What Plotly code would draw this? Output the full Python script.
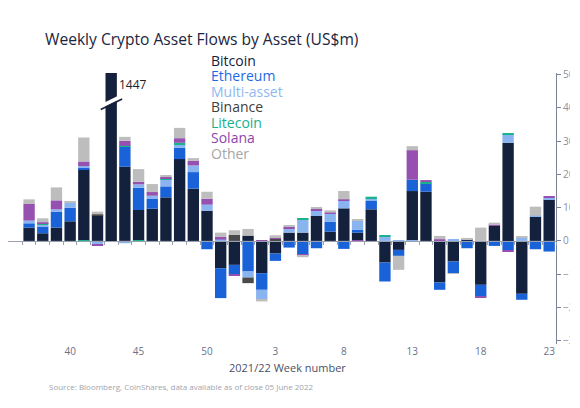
import plotly.graph_objects as go

# 2021 weeks 37-52, then 2022 weeks 1-23
weeks = list(range(37, 53)) + list(range(1, 24))

bitcoin = [40, 23, 40, 59, 216, 77, 1447, 223, 93, 97, 131, 246, 157, 91, -82, -72,
           16, -97, -38, 25, 25, 75, 28, 98, 25, 95, -65, -27, 150, 148, -125, -62,
           5, -132, 45, 295, -159, 73, 125]
ethereum = [13, 20, 48, 41, 4, 0, 0, 60, 67, 29, 33, 34, 50, -25, -90, -28,
            -92, -50, -22, -20, -42, -22, 30, -24, 8, 25, -57, -18, 34, 25, -22, -35,
            -22, -35, -15, -29, -18, -25, -32]
multi_asset = [8, 5, 7, 16, 5, -12, 0, -7, 10, 10, 21, 10, 20, 18, 4, 0,
               -18, -30, 0, 13, 40, 16, 23, 23, 29, 9, 12, 2, -2, 0, 2, 4,
               0, 0, 0, 25, 11, 3, 5]
binance = [0, 0, 0, 0, 0, 3, 0, 0, 0, 0, 0, 0, 0, 0, 0, 18,
           -17, 0, 6, 0, 0, 0, 0, 0, 0, 0, 0, 0, 0, 0, 0, 0,
           0, 0, 0, 0, 0, 0, 0]
litecoin = [0, 3, 0, 0, -2, 0, 0, 3, -2, 0, 3, 5, 0, 0, 0, 0,
            0, 0, 0, 0, 4, 0, 0, 0, 0, 4, 4, 0, 0, 4, 0, 0,
            0, 0, 0, 4, 0, 0, 0]
solana = [50, 5, 27, 0, 14, -3, 0, 15, 8, 11, 5, 14, 14, 18, 8, -4,
          0, 2, 5, 4, -2, 5, 4, 4, -2, 0, 0, 0, 89, 6, 3, 0,
          0, -2, 5, -4, 0, 0, 3]
other = [14, 12, 39, 2, 72, 8, 0, 12, 38, 24, 4, 31, 8, 21, 13, 14,
         20, -5, 6, 4, -5, 5, 7, 25, 2, 0, 0, -42, 12, 0, 10, -2,
         4, 40, 5, 0, 3, 27, 0]

series = [
    ("Bitcoin", bitcoin, "#14213d"),
    ("Ethereum", ethereum, "#1a62d8"),
    ("Multi-asset", multi_asset, "#8ab4f0"),
    ("Binance", binance, "#4a4a4a"),
    ("Litecoin", litecoin, "#1ab38c"),
    ("Solana", solana, "#9650b0"),
    ("Other", other, "#bdbdbd"),
]
legend_colors = ["#14213d", "#1e6ae0", "#8fb8f0", "#404040", "#17b08a", "#8e44ad", "#a6a6a6"]

tick_weeks = [40, 45, 50, 3, 8, 13, 18, 23]
y_ticks = [500, 400, 300, 200, 100, 0, -100, -200, -300]

W, H = 562, 408
ML, MR, MT, MB = 0, 14, 65, 72
y_range = [-310, 505]
x_range = [-1.54, 38.5]
idx = list(range(len(weeks)))


def px(x, y):
    # figure pixels -> paper coords
    return (x - ML) / (W - ML - MR), 1 - (y - MT) / (H - MT - MB)


fig = go.Figure()
for name, vals, col in series:
    fig.add_trace(go.Bar(x=idx, y=vals, name=name, marker_color=col,
                         marker_line_width=0, showlegend=False))

# empty trace so the zero-line axis gets drawn
fig.add_trace(go.Scatter(x=[], y=[], xaxis="x2", showlegend=False))

# axis break on the big bitcoin week
big = bitcoin.index(max(bitcoin))
fig.add_shape(type="line", x0=big - 0.76, y0=404, x1=big + 0.8, y1=436,
              line=dict(color="white", width=4))
fig.add_shape(type="line", x0=big - 0.76, y0=395, x1=big + 0.8, y1=427,
              line=dict(color="#14213d", width=1.6))
fig.add_annotation(x=big + 0.45, y=470, text=str(max(bitcoin)), showarrow=False,
                   xanchor="left", font=dict(size=12, color="#222"))

# legend as coloured text
for i, (s, c) in enumerate(zip(series, legend_colors)):
    lx, ly = px(201, 52 + i * 15.5)
    fig.add_annotation(x=lx, y=ly, xref="paper", yref="paper", text=s[0],
                       showarrow=False, xanchor="left", yanchor="middle",
                       font=dict(size=14, color=c))

tx, ty = px(279, 359)
fig.add_annotation(x=tx, y=ty, xref="paper", yref="paper",
                   text="2021/22 Week number", showarrow=False, yanchor="middle",
                   font=dict(size=11, color="#4a5068"))
sx, sy = px(39, 378)
fig.add_annotation(x=sx, y=sy, xref="paper", yref="paper",
                   text="Source: Bloomberg, CoinShares, data available as of close 05 June 2022",
                   showarrow=False, xanchor="left", yanchor="middle",
                   font=dict(size=8, color="#a0a4ad"))

zero_pos = (0 - y_range[0]) / (y_range[1] - y_range[0])

fig.update_layout(
    width=W, height=H,
    margin=dict(l=ML, r=MR, t=MT, b=MB, autoexpand=False),
    barmode="relative", bargap=0.17,
    plot_bgcolor="white", paper_bgcolor="white",
    font=dict(family="Open Sans", color="#1a2540"),
    title=dict(text="Weekly Crypto Asset Flows by Asset (US$m)", x=37 / W, xanchor="left",
               y=1 - 32 / H, yanchor="middle", font=dict(size=15.6, color="#1a2540")),
    xaxis=dict(range=x_range, tickvals=[weeks.index(w) for w in tick_weeks],
               ticktext=[str(w) for w in tick_weeks], showline=False, showgrid=False,
               zeroline=False, ticks="", automargin=False,
               tickfont=dict(size=10, color="#6b7186")),
    xaxis2=dict(overlaying="x", matches="x", anchor="free", position=zero_pos,
                showline=True, linecolor="#9aa0ad", linewidth=1, ticks="outside",
                ticklen=3, tickcolor="#9aa0ad", tickvals=[i - 0.5 for i in range(len(weeks) + 1)],
                showticklabels=False, showgrid=False, zeroline=False),
    yaxis=dict(range=y_range, side="right", tickvals=y_ticks, automargin=False,
               showline=True, linecolor="#7d8394", ticks="outside", ticklen=4,
               tickcolor="#7d8394", showgrid=False, zeroline=False,
               tickfont=dict(size=10, color="#8a8f9c")),
)

fig.write_html("out.html")
